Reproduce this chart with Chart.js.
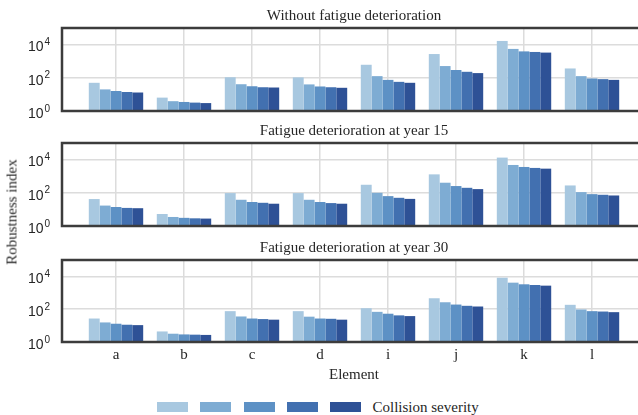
<!DOCTYPE html>
<html lang="en">
<head>
<meta charset="UTF-8">
<title>Robustness index</title>
<script src="https://cdn.jsdelivr.net/npm/chart.js@4.4.0/dist/chart.umd.min.js"></script>
<style>
  html, body { margin: 0; padding: 0; background: #fff; overflow: hidden; width: 638px; height: 415px; }
  .panel { position: absolute; left: 0; }
  .ylabel {
    position: absolute; left: 12px; top: 212px;
    transform: translate(-50%, -50%) rotate(-90deg);
    font: 15px "Liberation Serif"; color: #262626; white-space: nowrap;
  }
  .legend {
    position: absolute; top: 400px; left: 157px; height: 14px;
    display: flex; align-items: center;
    font: 15px "Liberation Serif"; color: #262626; white-space: nowrap;
  }
  .legend .box { width: 31px; height: 10.5px; margin-right: 12.3px; }
  .legend .txt { margin-left: -1px; }
</style>
</head>
<body>
<canvas id="p1" class="panel" width="660" height="120" style="top:0px"></canvas>
<canvas id="p2" class="panel" width="660" height="120" style="top:115px"></canvas>
<canvas id="p3" class="panel" width="660" height="153" style="top:232px"></canvas>
<div class="ylabel">Robustness index</div>
<div class="legend" id="legend"></div>

<script>
// elements on the x axis
const elements = ['a', 'b', 'c', 'd', 'i', 'j', 'k', 'l'];
const yTicks = [1, 100, 10000];
const yExponents = ['0', '2', '4'];
const colors = ['#a8c8e0', '#7eacd3', '#5d91c5', '#4270b0', '#2e5196'];

// one row per element, five collision severity levels each
const noFatigue = [
  [50, 20, 16, 14, 13],
  [6.4, 3.9, 3.5, 3.2, 3.0],
  [108, 41, 31, 27, 26],
  [106, 40, 30, 27, 25],
  [610, 126, 75, 57, 50],
  [2700, 510, 295, 230, 192],
  [16600, 5500, 3900, 3600, 3300],
  [365, 126, 91, 83, 75]
];
const year15 = [
  [42, 17, 14, 12.3, 11.8],
  [5.3, 3.5, 3.1, 2.9, 2.8],
  [96, 38, 28, 25, 22],
  [96, 38, 28, 24, 22],
  [305, 100, 63, 50, 43],
  [1290, 405, 255, 200, 167],
  [13200, 4750, 3600, 3150, 2850],
  [277, 110, 83, 76, 69]
];
const year30 = [
  [27, 15.6, 13, 11.3, 10.7],
  [4.4, 3.2, 2.9, 2.8, 2.7],
  [76, 36, 27, 25, 23],
  [76, 35, 27, 26, 23],
  [115, 69, 53, 42, 38],
  [465, 265, 192, 161, 146],
  [8300, 4150, 3300, 3000, 2730],
  [185, 96, 76, 72, 66]
];

const serif = { family: 'Liberation Serif', size: 15, weight: 'normal' };
const textColor = '#262626';
const gridColor = '#dcdcdc';

// dark box around each plot area
const frame = {
  id: 'frame',
  afterDraw(chart) {
    const { ctx, chartArea: a } = chart;
    ctx.save();
    ctx.strokeStyle = '#3c3c3c';
    ctx.lineWidth = 2.5;
    ctx.strokeRect(a.left, a.top, a.right - a.left, a.bottom - a.top);
    ctx.restore();
  }
};

// raised exponent after each "10" tick label
const exponents = {
  id: 'exponents',
  afterDraw(chart) {
    const { ctx } = chart;
    const y = chart.scales.y;
    ctx.save();
    ctx.font = '10px "Liberation Sans"';
    ctx.fillStyle = textColor;
    ctx.textAlign = 'left';
    ctx.textBaseline = 'alphabetic';
    yTicks.forEach((v, k) => {
      ctx.fillText(yExponents[k], y.right - 17.5, y.getPixelForValue(v) + 0.5);
    });
    ctx.restore();
  }
};

function makePanel(id, title, rows, showX) {
  const datasets = colors.map((c, s) => ({
    label: 'Severity ' + (s + 1),
    data: rows.map((r, i) => ({ x: i, y: r[s] })),
    backgroundColor: c,
    borderWidth: 0,
    categoryPercentage: 0.8,
    barPercentage: 1
  }));

  new Chart(document.getElementById(id), {
    type: 'bar',
    data: { datasets },
    options: {
      responsive: false,
      animation: false,
      devicePixelRatio: 1,
      layout: { padding: { left: 0, right: 14, top: 0, bottom: 0 } },
      plugins: {
        legend: { display: false },
        tooltip: { enabled: false },
        title: {
          display: true, text: title, fullSize: false,
          font: serif, color: textColor,
          padding: { top: 7, bottom: 3 }
        }
      },
      scales: {
        x: {
          type: 'linear', min: -0.794, max: 7.794, offset: false,
          afterBuildTicks: s => { s.ticks = elements.map((e, i) => ({ value: i })); },
          afterFit: s => { s.height = showX ? 43 : 9; },
          grid: { color: gridColor, lineWidth: 1.5, drawTicks: false, offset: false },
          border: { display: false },
          ticks: {
            display: showX, padding: 4, maxRotation: 0, autoSkip: false,
            callback: v => elements[v],
            font: serif, color: textColor
          },
          title: {
            display: showX, text: 'Element', font: serif, color: textColor,
            padding: { top: 0, bottom: 1 }
          }
        },
        y: {
          type: 'logarithmic', min: 1, max: 100000,
          afterBuildTicks: s => { s.ticks = yTicks.map(v => ({ value: v })); },
          afterFit: s => { s.width = 62; s.paddingTop = 0; s.paddingBottom = 0; },
          grid: { color: gridColor, lineWidth: 1.5, drawTicks: false },
          border: { display: false },
          ticks: {
            padding: 18.5, labelOffset: 3,
            callback: () => '10',
            font: { family: 'Liberation Sans', size: 14 },
            color: textColor
          }
        }
      }
    },
    plugins: [frame, exponents]
  });
}

makePanel('p1', 'Without fatigue deterioration', noFatigue, false);
makePanel('p2', 'Fatigue deterioration at year 15', year15, false);
makePanel('p3', 'Fatigue deterioration at year 30', year30, true);

// legend: five swatches then one caption
const legend = document.getElementById('legend');
colors.forEach(c => {
  const b = document.createElement('span');
  b.className = 'box';
  b.style.background = c;
  legend.appendChild(b);
});
const cap = document.createElement('span');
cap.className = 'txt';
cap.textContent = 'Collision severity';
legend.appendChild(cap);
</script>
</body>
</html>
